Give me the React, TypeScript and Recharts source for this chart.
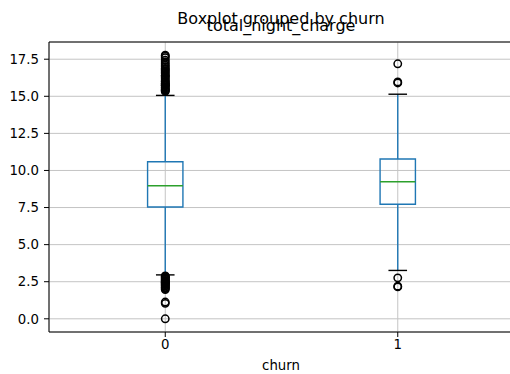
import React from 'react';
import {
  ComposedChart,
  XAxis,
  YAxis,
  CartesianGrid,
  Scatter,
  ReferenceArea,
  ReferenceLine,
} from 'recharts';

// groups (churn) and the box statistics
const categories = ['0', '1'];
const q1 = [7.54, 7.72];
const median = [8.97, 9.24];
const q3 = [10.59, 10.77];
const whiskerLow = [2.96, 3.26];
const whiskerHigh = [15.06, 15.14];

const fliersNoChurn = [
  17.77, 17.71, 17.6, 17.44, 17.32, 17.19, 17.09, 16.99, 16.88, 16.81, 16.72, 16.63,
  16.55, 16.42, 16.39, 16.3, 16.21, 16.1, 16.02, 15.97, 15.86, 15.85, 15.76, 15.74,
  15.71, 15.62, 15.56, 15.49, 15.43, 15.39, 15.33,
  2.89, 2.86, 2.81, 2.76, 2.7, 2.65, 2.59, 2.55, 2.5, 2.45, 2.43, 2.4, 2.34, 2.3,
  2.25, 2.2, 2.13, 2.09, 2.03, 1.97,
  1.13, 1.04, 0.0,
];
const fliersChurn = [17.19, 15.97, 15.9, 2.76, 2.2, 2.15];

const yTicks = [0, 2.5, 5, 7.5, 10, 12.5, 15, 17.5];
const yDomain = [-0.89, 18.66];

const BLUE = '#1f77b4';
const GREEN = '#2ca02c';
const FONT = 'DejaVu Sans, sans-serif';
const HALF_BOX = 0.076;
const HALF_CAP = 0.04;

const fliers = [
  ...fliersNoChurn.map((y) => ({ x: 1, y })),
  ...fliersChurn.map((y) => ({ x: 2, y })),
];

const FlierDot = (props: any) => (
  <circle cx={props.cx} cy={props.cy} r={3.7} fill="none" stroke="#000" strokeWidth={1.5} />
);

const tickStyle = { fill: '#000', fontSize: 13.3, fontFamily: FONT };

const App: React.FC = () => {
  return (
    <div
      style={{
        position: 'absolute',
        left: 0,
        top: 0,
        width: 510,
        height: 374,
        overflow: 'hidden',
        background: '#fff',
      }}
    >
      <ComposedChart width={520} height={374} margin={{ top: 42, right: 6, left: 0, bottom: 0 }}>
        <CartesianGrid stroke="#c4c4c4" strokeWidth={1} />
        <XAxis
          type="number"
          dataKey="x"
          domain={[0.5, 2.5]}
          ticks={[1, 2]}
          allowDataOverflow
          height={42}
          tickFormatter={(v: number) => categories[v - 1]}
          tick={tickStyle}
          tickSize={5}
          tickMargin={3}
          stroke="#000"
        />
        <YAxis
          type="number"
          dataKey="y"
          domain={yDomain}
          ticks={yTicks}
          allowDataOverflow
          width={49}
          tickFormatter={(v: number) => v.toFixed(1)}
          tick={tickStyle}
          tickSize={5}
          tickMargin={5}
          stroke="#000"
        />
        <ReferenceLine y={yDomain[1]} stroke="#000" strokeWidth={1.1} />
        <ReferenceLine x={2.5} stroke="#000" strokeWidth={1.1} />
        {categories.map((c, i) => {
          const pos = i + 1;
          return (
            <React.Fragment key={c}>
              <ReferenceLine
                segment={[{ x: pos, y: whiskerLow[i] }, { x: pos, y: q1[i] }]}
                stroke={BLUE}
                strokeWidth={1.4}
              />
              <ReferenceLine
                segment={[{ x: pos, y: q3[i] }, { x: pos, y: whiskerHigh[i] }]}
                stroke={BLUE}
                strokeWidth={1.4}
              />
              <ReferenceLine
                segment={[{ x: pos - HALF_CAP, y: whiskerLow[i] }, { x: pos + HALF_CAP, y: whiskerLow[i] }]}
                stroke="#000"
                strokeWidth={1.4}
              />
              <ReferenceLine
                segment={[{ x: pos - HALF_CAP, y: whiskerHigh[i] }, { x: pos + HALF_CAP, y: whiskerHigh[i] }]}
                stroke="#000"
                strokeWidth={1.4}
              />
              <ReferenceArea
                x1={pos - HALF_BOX}
                x2={pos + HALF_BOX}
                y1={q1[i]}
                y2={q3[i]}
                fill="none"
                fillOpacity={0}
                stroke={BLUE}
                strokeWidth={1.4}
                strokeOpacity={1}
              />
              <ReferenceLine
                segment={[{ x: pos - HALF_BOX, y: median[i] }, { x: pos + HALF_BOX, y: median[i] }]}
                stroke={GREEN}
                strokeWidth={1.4}
              />
            </React.Fragment>
          );
        })}
        <Scatter data={fliers} dataKey="y" shape={FlierDot} isAnimationActive={false} />
      </ComposedChart>
      <svg
        width={510}
        height={374}
        style={{ position: 'absolute', left: 0, top: 0, pointerEvents: 'none' }}
      >
        <text x={281} y={24} textAnchor="middle" fontSize={16} fontFamily={FONT} fill="#000">
          Boxplot grouped by churn
        </text>
        <text x={281} y={31} textAnchor="middle" fontSize={16} fontFamily={FONT} fill="#000">
          total_night_charge
        </text>
        <text x={281} y={370} textAnchor="middle" fontSize={13.3} fontFamily={FONT} fill="#000">
          churn
        </text>
      </svg>
    </div>
  );
};

export default App;
